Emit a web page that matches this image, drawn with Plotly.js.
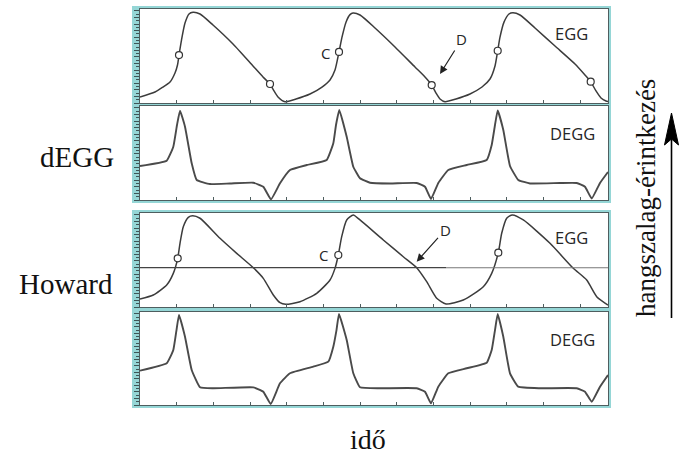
<!DOCTYPE html>
<html>
<head>
<meta charset="utf-8">
<script src="https://cdn.plot.ly/plotly-3.0.1.min.js"></script>
<style>html,body{margin:0;padding:0;background:#fff;}#chart{width:681px;height:456px;}</style>
</head>
<body>
<div id="chart"></div>
<script>
// ---- data (time in px-like units across the window, amplitude normalised 0-100) ----
const dEggEggT = [0,15,23,30,35,37.5,39,41.5,45,49,53,60,73,93,113,123,130,134,138,145,156,170,182,190,195,199,202,206,210,213,220,235,255,275,285,291.7,296,300,305,316,330,342,350,355,357.7,360,364,369,373,380,395,415,435,445,450.7,456,461,466,468];
const dEggEggV = [6.4,11.7,17,22.3,31.9,40.4,51,67,85,94.7,96.5,94.7,83,62.8,39.4,27.7,20.2,12.8,6.4,1.4,4.3,9.6,17,24.5,35,54.3,70,86,94,95.7,93.6,79.8,59.6,38.3,27.7,19.1,10.6,4.3,1.4,4.3,9.6,17,25.5,39.4,55.6,70,86,94.7,96,93.6,79.8,60.6,41.5,29.8,22.7,12.8,5.3,2.1,1.6];
const dEggMarkT = [39,130,199,291.7,357.7,450.7];
const dEggMarkV = [51,20.2,54.3,19.1,55.6,22.7];

const dEggDeggT = [0,26.7,33.3,37,40,45,51.7,56.7,70,90,113.3,123.3,131,140,150,166.7,186.7,193.3,196,199.3,206.7,213.3,220,230,250,276.7,285,291,298.3,308.3,326.7,346.7,351.7,355,357.7,363.3,370,378.3,390,420,436.7,445,451.7,460,468];
const dEggDeggV = [36.2,41.8,56.7,79.8,95,78,39,21.3,17,17.6,18.4,14.1,0.7,17.8,31.9,37.2,42.6,60.3,79.8,95.7,67.3,35.4,23.1,18.4,17.6,18.1,14.1,1.1,18.1,31.9,37.2,42.6,58.5,79.8,95.2,74.5,36.2,21.3,17.6,18.1,18.1,14.1,1.6,18.1,29.8];

const howEggT = [0,13.3,26.7,33.3,37.7,40,43.3,48.3,52.7,60,80,96.7,113.3,123.3,133.3,140,145.7,160,176.7,190,195,198.3,201.7,206.7,213.3,220,243.3,263.3,276.7,286.7,296.7,306,323.3,343.3,351.7,358.3,361.7,366.7,372.3,383.3,410,433.3,446.7,456.7,468];
const howEggV = [8.5,12.8,23.4,35.8,51.8,67.8,85.4,95.4,97.1,94.4,73.1,57.1,41.8,30.5,12.8,4.6,2.9,5.6,14.6,28.7,41.1,55.3,74.8,92.6,97.9,92.6,71.3,53.5,41.8,26.9,9.3,3.2,7.4,21.6,35.8,57.8,78.4,94.4,97.9,92.6,67.8,41.2,28.7,11,2.1];
const howMarkT = [37.7,198.3,358.3];
const howMarkV = [51.8,55.3,57.8];
const howThreshold = 41.8;

const howDeggT = [0,26.7,33.3,36.5,39,45,51.7,60,73.3,113.3,123.3,130.7,140,150,173.3,188.3,193.3,196.5,199,206.7,213.3,220,240,276.7,285,291,298.3,308.3,326.7,346.7,351.7,355,357.7,363.3,370,378.3,400,436.7,445,451.7,460,468];
const howDeggV = [36.9,44.8,59.1,80.6,96.8,73.4,37.6,19,18,19,14.3,1.1,23.3,34.1,41.2,46.6,62.7,80.6,97.8,69.9,34.1,19,18,18,14.3,1.8,19.7,34.1,39.5,45.5,59.1,80.6,97.8,73.4,34.1,19.7,18,18,14.3,3.5,19.7,32.3];

const panelLabels = ['EGG','DEGG','EGG','DEGG'];
const rowLabels = ['dEGG','Howard'];
const xTitle = 'idő';
const sideTitle = 'hangszalag-érintkezés';

// ---- layout helpers ----
const W = 681, H = 456;
const px = x => x / W;
const py = y => 1 - y / H;
const panels = [[9,103],[106,200],[213,307],[312,405]];
const plotL = 140, plotR = 608;
const teal = '#95d6d6';
const frame = '#4e5e5f';

const eggLine = {color:'#3c3c3c', width:1.5, shape:'spline', smoothing:0.6};
const deggLine = {color:'#4a4a4a', width:1.9, shape:'spline', smoothing:0.35};
const openMarker = {symbol:'circle', size:7, color:'#fff', line:{width:1.2,color:'#333'}};

const traces = [
  {x:dEggEggT, y:dEggEggV, xaxis:'x', yaxis:'y', mode:'lines', line:eggLine},
  {x:dEggMarkT, y:dEggMarkV, xaxis:'x', yaxis:'y', mode:'markers', marker:openMarker},
  {x:dEggDeggT, y:dEggDeggV, xaxis:'x2', yaxis:'y2', mode:'lines', line:deggLine},
  {x:howEggT, y:howEggV, xaxis:'x3', yaxis:'y3', mode:'lines', line:eggLine},
  {x:howMarkT, y:howMarkV, xaxis:'x3', yaxis:'y3', mode:'markers', marker:openMarker},
  {x:howDeggT, y:howDeggV, xaxis:'x4', yaxis:'y4', mode:'lines', line:deggLine}
];

const layout = {
  width:W, height:H, margin:{l:0,r:0,t:0,b:0},
  paper_bgcolor:'#fff', plot_bgcolor:'#fff', showlegend:false,
  shapes:[], annotations:[]
};

const sans = 'Open Sans, Noto Sans, sans-serif';
panels.forEach((p,i) => {
  const n = i===0 ? '' : String(i+1);
  layout['xaxis'+n] = {
    domain:[px(plotL), px(plotR)], range:[0,468], anchor:'y'+n,
    showgrid:false, zeroline:false, showticklabels:false,
    showline:true, mirror:true, linecolor:frame, linewidth:1.3,
    ticks:'inside', ticklen:3, tickcolor:frame, tick0:36.67, dtick:36.67
  };
  layout['yaxis'+n] = {
    domain:[py(p[1]), py(p[0])], range:[0,100], anchor:'x'+n,
    showgrid:false, zeroline:false, showticklabels:false,
    showline:true, mirror:true, linecolor:frame, linewidth:1.3,
    ticks:'outside', ticklen:5, tickcolor:'#3f5556', tick0:0, dtick:7,
    minor:{ticks:'outside', ticklen:2.5, tickcolor:'#3f5556', dtick:3.5}
  };
  layout.shapes.push({type:'rect', xref:'paper', yref:'paper', layer:'below',
    x0:px(132), x1:px(611), y0:py(p[1]+3), y1:py(p[0]-3), fillcolor:teal, line:{width:0}});
  layout.shapes.push({type:'rect', xref:'paper', yref:'paper', layer:'below',
    x0:px(plotL), x1:px(plotR), y0:py(p[1]), y1:py(p[0]), fillcolor:'#fff', line:{width:0}});
  layout.annotations.push({xref:'x'+n, yref:'y'+n, x:i%2===0?431.7:432, y:i%2===0?74:70.5, text:panelLabels[i],
    xanchor:'center', yanchor:'middle', showarrow:false, font:{family:sans, size:16.5, color:'#262626'}});
});

// threshold line in Howard EGG panel
layout.shapes.push({type:'line', xref:'x3', yref:'y3', x0:0, x1:306, y0:howThreshold, y1:howThreshold, line:{color:'#444', width:1.3}});
layout.shapes.push({type:'line', xref:'x3', yref:'y3', x0:306, x1:468, y0:howThreshold, y1:howThreshold, line:{color:'#777', width:1.1}});

// C / D labels
const smallFont = {family:sans, size:15, color:'#262626'};
layout.annotations.push({xref:'x', yref:'y', x:185, y:53.5, text:'C', xanchor:'center', yanchor:'middle', showarrow:false, font:smallFont});
layout.annotations.push({xref:'x3', yref:'y3', x:183, y:55.3, text:'C', xanchor:'center', yanchor:'middle', showarrow:false, font:smallFont});
layout.annotations.push({xref:'x', yref:'y', x:300, y:30.9, ax:21.7, ay:-34.7, text:'D', showarrow:true,
  arrowhead:2, arrowsize:1.3, arrowwidth:1.2, arrowcolor:'#222', standoff:0, font:smallFont});
layout.annotations.push({xref:'x3', yref:'y3', x:276.7, y:48.2, ax:28.3, ay:-31.7, text:'D', showarrow:true,
  arrowhead:2, arrowsize:1.3, arrowwidth:1.2, arrowcolor:'#222', standoff:0, font:smallFont});

// row labels and titles
const serif = 'Times New Roman, Liberation Serif, serif';
layout.annotations.push({xref:'paper', yref:'paper', x:px(77), y:py(157), xanchor:'center', yanchor:'middle', text:rowLabels[0], showarrow:false, font:{family:serif, size:29, color:'#111'}});
layout.annotations.push({xref:'paper', yref:'paper', x:px(66), y:py(284), xanchor:'center', yanchor:'middle', text:rowLabels[1], showarrow:false, font:{family:serif, size:29, color:'#111'}});
layout.annotations.push({xref:'paper', yref:'paper', x:px(368), y:py(439), xanchor:'center', yanchor:'middle', text:xTitle, showarrow:false, font:{family:serif, size:28, color:'#111'}});
layout.annotations.push({xref:'paper', yref:'paper', x:px(646), y:py(198), xanchor:'center', yanchor:'middle', text:sideTitle, textangle:-90, showarrow:false, font:{family:serif, size:27, color:'#111'}});

// big arrow on the right
layout.shapes.push({type:'line', xref:'paper', yref:'paper', x0:px(671.5), x1:px(671.5), y0:py(318), y1:py(135), line:{color:'#000', width:1.6}});
layout.shapes.push({type:'path', xref:'paper', yref:'paper',
  path:`M ${px(671.5)},${py(113)} L ${px(664.5)},${py(145)} L ${px(671.5)},${py(139)} L ${px(678.5)},${py(145)} Z`,
  fillcolor:'#000', line:{color:'#000', width:1}});

Plotly.newPlot('chart', traces, layout, {staticPlot:true, displayModeBar:false});
</script>
</body>
</html>
